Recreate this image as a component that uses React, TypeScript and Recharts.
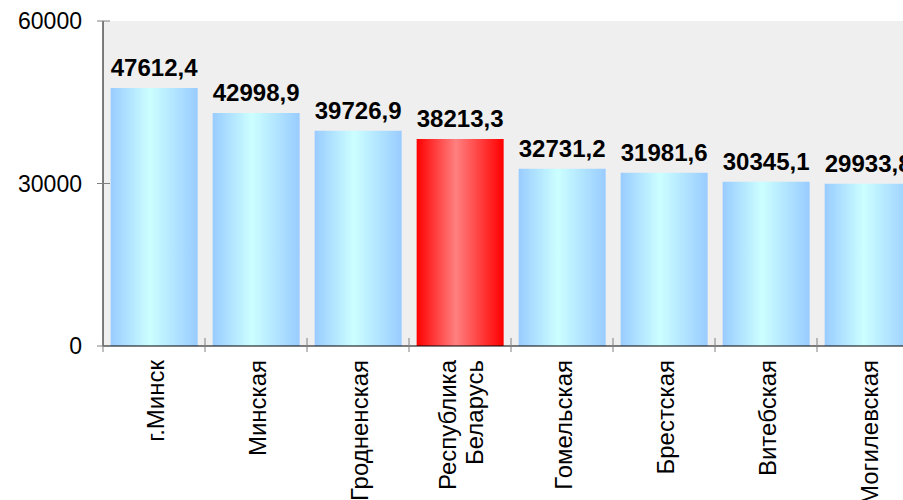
import { BarChart, Bar, XAxis, YAxis, CartesianGrid, Cell, LabelList } from "recharts"

const regions = [
  "г.Минск",
  "Минская",
  "Гродненская",
  "Республика\nБеларусь",
  "Гомельская",
  "Брестская",
  "Витебская",
  "Могилевская",
]

const wages = [47612.4, 42998.9, 39726.9, 38213.3, 32731.2, 31981.6, 30345.1, 29933.8]

const highlight = "Республика\nБеларусь"

const yTicks = [0, 30000, 60000]

const data = regions.map((name, i) => ({ name, value: wages[i] }))

const FONT = "'Liberation Sans', Arial, sans-serif"

function CategoryTick(props: any) {
  const { x, y, payload, index, visibleTicksCount } = props
  const off = payload?.offset || 51
  const lines = String(payload.value).split("\n")
  const lineGap = 27
  const startX = x + 1 - ((lines.length - 1) * lineGap) / 2
  const isLast = index === (visibleTicksCount ?? regions.length) - 1
  return (
    <g>
      <line x1={x - off} x2={x - off} y1={y - 8} y2={y + 6} stroke="#808080" />
      {isLast && <line x1={x + off} x2={x + off} y1={y - 8} y2={y + 6} stroke="#808080" />}
      {lines.map((ln, i) => {
        const cx = startX + i * lineGap
        const cy = y + 14
        return (
          <text
            key={i}
            x={cx}
            y={cy}
            transform={`rotate(-90, ${cx}, ${cy})`}
            textAnchor="end"
            dominantBaseline="central"
            fontFamily={FONT}
            fontSize={24}
            fill="#000"
          >
            {ln}
          </text>
        )
      })}
    </g>
  )
}

function ValueTick(props: any) {
  const { x, y, payload } = props
  return (
    <g>
      <line x1={x - 6} x2={x + 7} y1={y} y2={y} stroke="#808080" />
      <text
        x={x - 21}
        y={y}
        textAnchor="end"
        dominantBaseline="central"
        fontFamily={FONT}
        fontSize={23}
        fill="#000"
      >
        {payload.value}
      </text>
    </g>
  )
}

export default function App() {
  return (
    <div
      style={{
        position: "fixed",
        left: 0,
        top: 0,
        width: 903,
        height: 500,
        overflow: "hidden",
        background: "#fff",
      }}
    >
      <BarChart
        width={940}
        height={500}
        data={data}
        margin={{ top: 21, right: 21, bottom: 0, left: 0 }}
        barCategoryGap="7.5%"
      >
        <defs>
          <linearGradient id="blueBar" x1="0" y1="0" x2="1" y2="0">
            <stop offset="0%" stopColor="#99ccff" />
            <stop offset="45%" stopColor="#ccffff" />
            <stop offset="100%" stopColor="#99ccff" />
          </linearGradient>
          <linearGradient id="redBar" x1="0" y1="0" x2="1" y2="0">
            <stop offset="0%" stopColor="#ff0000" />
            <stop offset="45%" stopColor="#ff8080" />
            <stop offset="100%" stopColor="#ff0000" />
          </linearGradient>
        </defs>
        <CartesianGrid horizontal={false} vertical={false} fill="#efefef" />
        <XAxis
          dataKey="name"
          height={154}
          interval={0}
          axisLine={{ stroke: "#000" }}
          tickLine={false}
          tickSize={0}
          tickMargin={0}
          tick={<CategoryTick />}
        />
        <YAxis
          width={103}
          domain={[0, 60000]}
          ticks={yTicks}
          interval={0}
          axisLine={{ stroke: "#000" }}
          tickLine={false}
          tickSize={0}
          tickMargin={0}
          tick={<ValueTick />}
        />
        <Bar dataKey="value" isAnimationActive={false}>
          {data.map((d, i) => (
            <Cell key={i} fill={d.name === highlight ? "url(#redBar)" : "url(#blueBar)"} />
          ))}
          <LabelList
            dataKey="value"
            position="top"
            offset={12}
            formatter={(v: any) => Number(v).toFixed(1).replace(".", ",")}
            style={{ fill: "#000", fontSize: 24, fontWeight: "bold", fontFamily: FONT }}
          />
        </Bar>
      </BarChart>
    </div>
  )
}
